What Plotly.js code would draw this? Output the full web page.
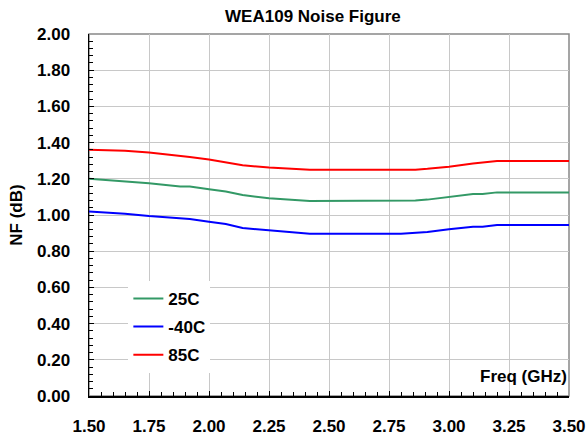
<!DOCTYPE html>
<html>
<head>
<meta charset="utf-8">
<script src="https://cdn.plot.ly/plotly-3.0.1.min.js"></script>
<style>html,body{margin:0;padding:0;background:#fff;}#chart{width:586px;height:436px;}</style>
</head>
<body>
<div id="chart"></div>
<script>
const freq = [1.50, 1.65, 1.75, 1.88, 1.92, 2.00, 2.07, 2.14, 2.25, 2.42, 2.80, 2.86, 2.91, 3.00, 3.10, 3.14, 3.20, 3.50];
const nf25 = [1.200, 1.186, 1.175, 1.158, 1.158, 1.142, 1.130, 1.110, 1.092, 1.077, 1.077, 1.080, 1.085, 1.100, 1.116, 1.116, 1.125, 1.125];
const nfM40 = [1.020, 1.007, 0.994, 0.980, 0.978, 0.963, 0.950, 0.928, 0.915, 0.897, 0.897, 0.900, 0.906, 0.921, 0.935, 0.935, 0.945, 0.945];
const nf85 = [1.360, 1.355, 1.345, 1.328, 1.320, 1.307, 1.290, 1.275, 1.262, 1.250, 1.250, 1.250, 1.255, 1.267, 1.285, 1.290, 1.298, 1.298];
const seriesNames = ["25C", "-40C", "85C"];
const seriesColors = ["#339966", "#0000FF", "#FF0000"];
const xTicks = [1.50, 1.75, 2.00, 2.25, 2.50, 2.75, 3.00, 3.25, 3.50];
const yTicks = [0, 0.2, 0.4, 0.6, 0.8, 1.0, 1.2, 1.4, 1.6, 1.8, 2.0];

const FONT = "Liberation Sans, Arial, Helvetica, sans-serif";
const FS = 17;
const values = [nf25, nfM40, nf85];
const traces = values.map((v, i) => ({
  x: freq, y: v, type: "scatter", mode: "lines", name: seriesNames[i],
  legendgroup: "g" + i,
  line: {color: seriesColors[i], width: 2}
}));

const layout = {
  width: 586, height: 436,
  margin: {l: 89, r: 17, t: 34, b: 40},
  paper_bgcolor: "#fff", plot_bgcolor: "#fff",
  font: {family: FONT, color: "#000", size: FS, weight: "bold"},
  title: {text: "<b>WEA109 Noise Figure</b>", x: 0.534, xanchor: "center", y: 0.963, yanchor: "middle",
          font: {family: FONT, size: FS, color: "#000"}},
  showlegend: true,
  legend: {x: 0.082, y: 0.318, xanchor: "left", yanchor: "top", bgcolor: "#fff", borderwidth: 0,
           font: {family: FONT, size: FS, color: "#000", weight: "bold"}, tracegroupgap: 3},
  xaxis: {
    range: [1.5, 3.5], tickvals: xTicks, tickformat: ".2f",
    showgrid: true, gridcolor: "#C8C8C8", gridwidth: 1,
    showline: true, linecolor: "#000", linewidth: 1.5,
    ticks: "inside", ticklen: 5, tickcolor: "#000", tickwidth: 1,
    ticklabelstandoff: 14,
    minor: {dtick: 0.05, tick0: 1.5, ticks: "inside", ticklen: 4, tickcolor: "#000", showgrid: false},
    tickfont: {family: FONT, size: FS, color: "#000", weight: "bold"},
    zeroline: false, fixedrange: true
  },
  yaxis: {
    range: [0, 2], tickvals: yTicks, tickformat: ".2f",
    showgrid: true, gridcolor: "#C8C8C8", gridwidth: 1,
    showline: true, linecolor: "#000", linewidth: 1.5,
    ticks: "inside", ticklen: 5, tickcolor: "#000", tickwidth: 1,
    ticklabelstandoff: 14,
    minor: {dtick: 0.04, tick0: 0, ticks: "inside", ticklen: 4, tickcolor: "#000", showgrid: false},
    tickfont: {family: FONT, size: FS, color: "#000", weight: "bold"},
    title: {text: "<b>NF (dB)</b>", font: {family: FONT, size: FS, color: "#000"}, standoff: 10},
    zeroline: false, fixedrange: true
  },
  shapes: [{type: "rect", xref: "paper", yref: "paper", x0: 0, x1: 1, y0: 0, y1: 1,
            line: {color: "#888", width: 1.5}, layer: "below"}],
  annotations: [{text: "<b>Freq (GHz)</b>", xref: "x", yref: "paper", x: 3.5, y: 0.0525,
                 xanchor: "right", yanchor: "middle", showarrow: false,
                 font: {family: FONT, size: FS, color: "#000"}}]
};
Plotly.newPlot("chart", traces, layout, {displayModeBar: false, staticPlot: true});
</script>
</body>
</html>
